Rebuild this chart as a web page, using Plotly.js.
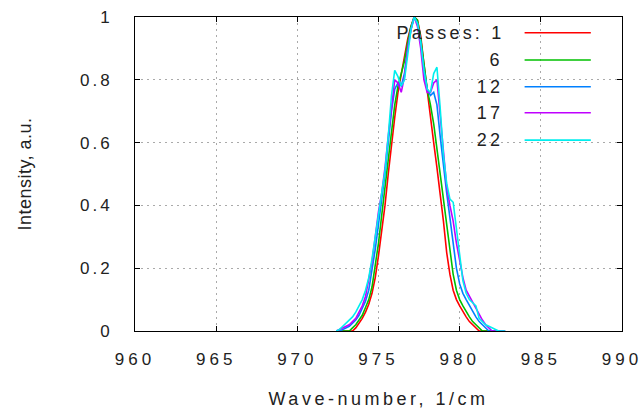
<!DOCTYPE html>
<html><head><meta charset="utf-8">
<script src="https://cdn.plot.ly/plotly-3.0.1.min.js"></script>
<style>
body{margin:0;background:#fff}
#chart .xtick text{letter-spacing:4px}
#chart .ytick text{letter-spacing:3px}
#chart .xtitle{letter-spacing:3.5px}
#chart .ytitle{letter-spacing:0.5px}
#chart .annotation-text{letter-spacing:3.2px}
</style>
</head><body><div id="chart" style="width:642px;height:409px"></div>
<script>
const wavenumber = [
972.4,972.6,972.8,973.0,973.2,973.4,973.6,973.8,974.0,974.2,
974.4,974.6,974.8,975.0,975.2,975.4,975.6,975.8,976.0,976.2,
976.4,976.6,976.8,977.0,977.2,977.4,977.6,977.8,978.0,978.2,
978.4,978.6,978.8,979.0,979.2,979.4,979.6,979.8,980.0,980.2,
980.4,980.6,980.8,981.0,981.2,981.4,981.6,981.8,982.0,982.2,
982.4,982.6,982.8];
const passes1 = [
0,0,0,0,0,0,0.01,0.025,0.04,0.06,
0.085,0.12,0.17,0.24,0.32,0.40,0.50,0.60,0.68,0.76,
0.82,0.88,0.93,0.97,1.0,0.99,0.94,0.85,0.76,0.68,
0.60,0.52,0.44,0.35,0.25,0.18,0.13,0.10,0.08,0.06,
0.045,0.03,0.02,0.01,0,0,0,0,0,0,
0,0,0];
const passes6 = [
0,0,0,0,0,0.01,0.02,0.035,0.05,0.075,
0.10,0.14,0.21,0.28,0.37,0.46,0.55,0.64,0.72,0.78,
0.82,0.86,0.92,0.97,1.0,0.99,0.93,0.85,0.77,0.72,
0.66,0.58,0.50,0.42,0.33,0.25,0.18,0.13,0.10,0.08,
0.06,0.045,0.03,0.02,0.01,0,0,0,0,0,
0,0,0];
const passes12 = [
0,0,0.005,0.01,0.015,0.025,0.035,0.05,0.07,0.095,
0.13,0.19,0.26,0.34,0.42,0.50,0.60,0.70,0.77,0.79,
0.78,0.82,0.90,0.96,1.0,0.98,0.92,0.83,0.77,0.75,
0.76,0.72,0.62,0.52,0.44,0.36,0.28,0.20,0.15,0.12,
0.10,0.08,0.06,0.045,0.03,0.02,0.01,0,0,0,
0,0,0];
const passes17 = [
0,0.005,0.01,0.015,0.02,0.03,0.04,0.06,0.08,0.11,
0.16,0.22,0.30,0.38,0.44,0.52,0.62,0.72,0.80,0.79,
0.76,0.81,0.90,0.96,1.0,0.97,0.90,0.80,0.76,0.76,
0.79,0.80,0.68,0.56,0.46,0.40,0.35,0.28,0.22,0.17,
0.13,0.11,0.09,0.07,0.05,0.035,0.02,0.01,0,0,
0,0,0];
const passes22 = [
0,0.005,0.015,0.025,0.035,0.045,0.06,0.08,0.10,0.13,
0.17,0.23,0.30,0.37,0.44,0.51,0.62,0.75,0.83,0.81,
0.78,0.80,0.88,0.96,1.0,0.98,0.92,0.83,0.77,0.76,
0.82,0.84,0.71,0.56,0.47,0.42,0.41,0.33,0.24,0.16,
0.12,0.10,0.09,0.08,0.04,0.03,0.02,0.015,0.01,0.005,
0,0,0];
const seriesValues = [passes1, passes6, passes12, passes17, passes22];
const seriesNames = ['1','6','12','17','22'];
const legendLabels = ['Passes: 1','6','12','17','22'];
const seriesColors = ['#ff0000','#00c000','#0080ff','#c000ff','#00eeee'];
const xTicks = [960,965,970,975,980,985,990];
const yTicks = [0,0.2,0.4,0.6,0.8,1];

const traces = seriesValues.map((v,i)=>({
  x: wavenumber, y: v, type:'scatter', mode:'lines', name: seriesNames[i],
  line:{color:seriesColors[i], width:1.6}, showlegend:false
}));

const rowY = [0.950,0.863,0.778,0.695,0.608];
const rowX = [0.734,0.756,0.753,0.753,0.754];
const annotations = legendLabels.map((t,i)=>({
  xref:'paper', yref:'paper', x:rowX[i], y:rowY[i], xanchor:'right', yanchor:'middle',
  text:t, showarrow:false, font:{size:18,color:'#222',family:'Liberation Sans, Arial, sans-serif'}
}));
const shapes = [{
  type:'rect', xref:'paper', yref:'paper', x0:0.4887, x1:0.9651, y0:0.567, y1:1,
  fillcolor:'#ffffff', line:{width:0}, layer:'between'
}].concat(seriesColors.map((c,i)=>({
  type:'line', xref:'paper', yref:'paper', x0:0.800, x1:0.936, y0:rowY[i], y1:rowY[i],
  line:{color:c, width:1.6}
})));

const axisCommon = {
  showline:true, linecolor:'#000', linewidth:1, mirror:'ticks',
  ticks:'inside', ticklen:5, tickcolor:'#000',
  showgrid:true, gridcolor:'#aaaaaa', gridwidth:1, griddash:'2px,4px',
  zeroline:false, tickfont:{size:17,color:'#222',family:'Liberation Sans, Arial, sans-serif'}
};

const layout = {
  width:642, height:409,
  margin:{l:135, r:20, t:17, b:78},
  paper_bgcolor:'#fff', plot_bgcolor:'#fff',
  font:{family:'Liberation Sans, Arial, sans-serif', color:'#222'},
  xaxis: Object.assign({}, axisCommon, {
    range:[960,990], tickvals:xTicks, ticklabelstandoff:13,
    title:{text:'Wave-number, 1/cm', font:{size:18,color:'#222'}, standoff:24}
  }),
  yaxis: Object.assign({}, axisCommon, {
    range:[0,1], tickvals:yTicks, ticklabelstandoff:18,
    title:{text:'Intensity, a.u.', font:{size:18,color:'#222'}, standoff:52}
  }),
  annotations: annotations,
  shapes: shapes
};

Plotly.newPlot('chart', traces, layout, {staticPlot:true, displayModeBar:false});
</script>
</body></html>
